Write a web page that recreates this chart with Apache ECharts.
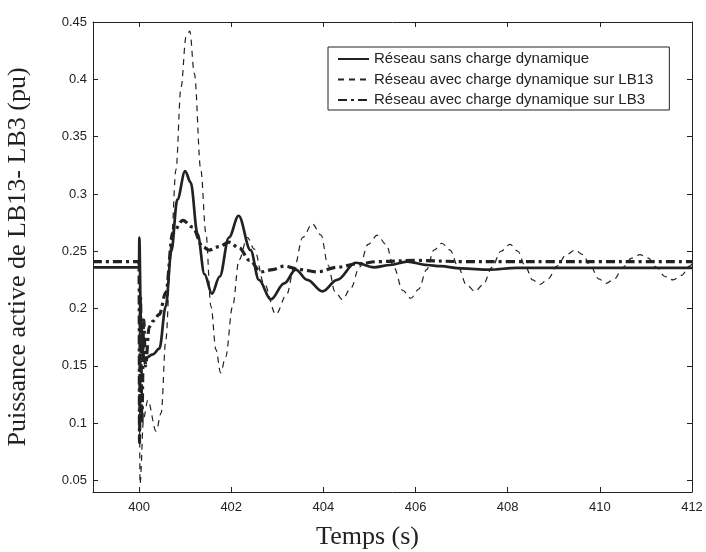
<!DOCTYPE html>
<html>
<head>
<meta charset="utf-8">
<script src="https://cdn.jsdelivr.net/npm/echarts@6/dist/echarts.min.js"></script>
<style>
html,body{margin:0;padding:0;background:#fff;}
#chart{width:706px;height:552px;}
</style>
</head>
<body>
<div id="chart"></div>
<script>
var seriesNames = [
  'Réseau sans charge dynamique',
  'Réseau avec charge dynamique sur LB13',
  'Réseau avec charge dynamique sur LB3'
];
var xTicks = [400, 402, 404, 406, 408, 410, 412];
var yTicks = [0.05, 0.1, 0.15, 0.2, 0.25, 0.3, 0.35, 0.4, 0.45];

var solidPts = [
  [399, 0.236], [400, 0.236], [400.005, 0.262], [400.04, 0.19], [400.1, 0.158],
  [400.15, 0.157], [400.3, 0.16], [400.44, 0.165], [400.58, 0.202], [400.7, 0.25],
  [400.83, 0.295], [401.0, 0.32], [401.12, 0.31], [401.27, 0.265], [401.42, 0.23],
  [401.58, 0.213], [401.75, 0.228], [401.95, 0.262], [402.16, 0.281], [402.42, 0.251],
  [402.6, 0.225], [402.86, 0.208], [403.15, 0.222], [403.4, 0.234], [403.65, 0.225],
  [403.98, 0.215], [404.3, 0.225], [404.7, 0.24], [405.1, 0.236], [405.45, 0.238],
  [405.82, 0.241], [406.25, 0.238], [406.54, 0.237], [407.0, 0.235], [407.6, 0.234],
  [408.2, 0.2355], [409, 0.2355], [410, 0.2355], [411, 0.2355], [412, 0.2355]
];

var dashedPts = [
  [399, 0.236], [400, 0.236], [400.02, 0.047], [400.1, 0.105], [400.19, 0.12],
  [400.37, 0.093], [400.48, 0.109], [400.58, 0.173], [400.7, 0.26], [400.8, 0.321],
  [400.91, 0.393], [401.02, 0.437], [401.1, 0.442], [401.2, 0.405], [401.34, 0.321],
  [401.45, 0.266], [401.56, 0.202], [401.67, 0.164], [401.77, 0.144], [401.88, 0.158],
  [402.03, 0.202], [402.17, 0.2425], [402.35, 0.262], [402.5, 0.252], [402.71, 0.222],
  [402.97, 0.195], [403.2, 0.212], [403.37, 0.236], [403.55, 0.262], [403.76, 0.274],
  [403.95, 0.264], [404.1, 0.238], [404.25, 0.215], [404.41, 0.208], [404.6, 0.218],
  [404.78, 0.236], [404.97, 0.256], [405.17, 0.264], [405.36, 0.256], [405.53, 0.236],
  [405.72, 0.216], [405.9, 0.209], [406.07, 0.217], [406.24, 0.234], [406.4, 0.251],
  [406.57, 0.257], [406.75, 0.251], [406.93, 0.236], [407.1, 0.221], [407.29, 0.215],
  [407.47, 0.221], [407.66, 0.236], [407.85, 0.25], [408.05, 0.256], [408.22, 0.25],
  [408.38, 0.237], [408.54, 0.225], [408.7, 0.221], [408.88, 0.226], [409.07, 0.237],
  [409.27, 0.247], [409.46, 0.251], [409.63, 0.247], [409.8, 0.237], [409.97, 0.226],
  [410.14, 0.222], [410.32, 0.226], [410.5, 0.236], [410.69, 0.244], [410.87, 0.247],
  [411.05, 0.244], [411.23, 0.236], [411.41, 0.228], [411.59, 0.225], [411.77, 0.229],
  [411.95, 0.237], [412, 0.239]
];

var dashDotPts = [
  [399, 0.241], [400, 0.241], [400.01, 0.083], [400.03, 0.21], [400.06, 0.1],
  [400.1, 0.19], [400.14, 0.15], [400.22, 0.184], [400.3, 0.189], [400.44, 0.195],
  [400.58, 0.214], [400.73, 0.266], [400.95, 0.277], [401.16, 0.271], [401.38, 0.254],
  [401.52, 0.251], [401.74, 0.254], [401.95, 0.258], [402.17, 0.253], [402.4, 0.242],
  [402.64, 0.232], [402.9, 0.234], [403.15, 0.237], [403.5, 0.234], [403.87, 0.232],
  [404.3, 0.236], [404.73, 0.239], [405.2, 0.241], [406, 0.242], [407, 0.241],
  [408, 0.241], [409, 0.241], [410, 0.241], [411, 0.241], [412, 0.241]
];

var ink = '#222';
var chart = echarts.init(document.getElementById('chart'), null, {renderer: 'canvas'});

function baseX(pos, showLabel) {
  return {
    type: 'value', position: pos, min: 399, max: 412,
    axisLine: {show: true, onZero: false, lineStyle: {color: ink, width: 1}},
    axisTick: {show: true, inside: true, length: 5, customValues: xTicks, lineStyle: {color: ink}},
    axisLabel: {show: showLabel, customValues: xTicks, color: ink, fontFamily: 'Liberation Sans, Arial, sans-serif', fontSize: 13, margin: 9},
    splitLine: {show: false}
  };
}
function baseY(pos, showLabel) {
  return {
    type: 'value', position: pos, min: 0.04, max: 0.45,
    axisLine: {show: true, onZero: false, lineStyle: {color: ink, width: 1}},
    axisTick: {show: true, inside: true, length: 5, customValues: yTicks, lineStyle: {color: ink}},
    axisLabel: {show: showLabel, customValues: yTicks, color: ink, fontFamily: 'Liberation Sans, Arial, sans-serif', fontSize: 13, margin: 6,
      formatter: function (v) { return String(+v.toFixed(2)); }},
    splitLine: {show: false}
  };
}

var xMain = baseX('bottom', true);
xMain.name = 'Temps (s)';
xMain.nameLocation = 'middle';
xMain.nameGap = 32;
xMain.nameTextStyle = {color: ink, fontFamily: 'Liberation Serif, Times New Roman, serif', fontSize: 26, padding: [0, 50, 0, 0]};
var xTop = baseX('top', false);

var yMain = baseY('left', true);
yMain.name = 'Puissance active de LB13- LB3 (pu)';
yMain.nameLocation = 'middle';
yMain.nameGap = 62;
yMain.nameTextStyle = {color: ink, fontFamily: 'Liberation Serif, Times New Roman, serif', fontSize: 26};
var yRight = baseY('right', false);

chart.setOption({
  animation: false,
  backgroundColor: '#fff',
  grid: {left: 93, right: 14, top: 22, bottom: 60, containLabel: false, outerBoundsMode: 'none'},
  legend: {
    left: 328, top: 47, orient: 'vertical',
    padding: [4.5, 16, 2.5, 9],
    itemWidth: 31, itemHeight: 12, itemGap: 5.5,
    borderColor: ink, borderWidth: 1, backgroundColor: '#fff',
    itemStyle: {color: 'rgba(0,0,0,0)', borderColor: 'rgba(0,0,0,0)', borderWidth: 0, opacity: 0},
    textStyle: {color: ink, fontFamily: 'Liberation Sans, Arial, sans-serif', fontSize: 15, lineHeight: 15},
    data: seriesNames
  },
  xAxis: [xMain, xTop],
  yAxis: [yMain, yRight],
  series: [
    {
      name: seriesNames[1], type: 'line', data: dashedPts, symbol: 'none',
      smooth: 0.35, smoothMonotone: 'x',
      lineStyle: {color: ink, width: 1.2, type: [6, 5]}, itemStyle: {color: ink}, z: 2
    },
    {
      name: seriesNames[2], type: 'line', data: dashDotPts, symbol: 'none',
      smooth: 0.35, smoothMonotone: 'x',
      lineStyle: {color: ink, width: 3.2, type: [9, 4, 3, 4]}, itemStyle: {color: ink}, z: 3
    },
    {
      name: seriesNames[0], type: 'line', data: solidPts, symbol: 'none',
      smooth: 0.35, smoothMonotone: 'x',
      lineStyle: {color: ink, width: 2.7}, itemStyle: {color: ink}, z: 4
    }
  ]
});
</script>
</body>
</html>
